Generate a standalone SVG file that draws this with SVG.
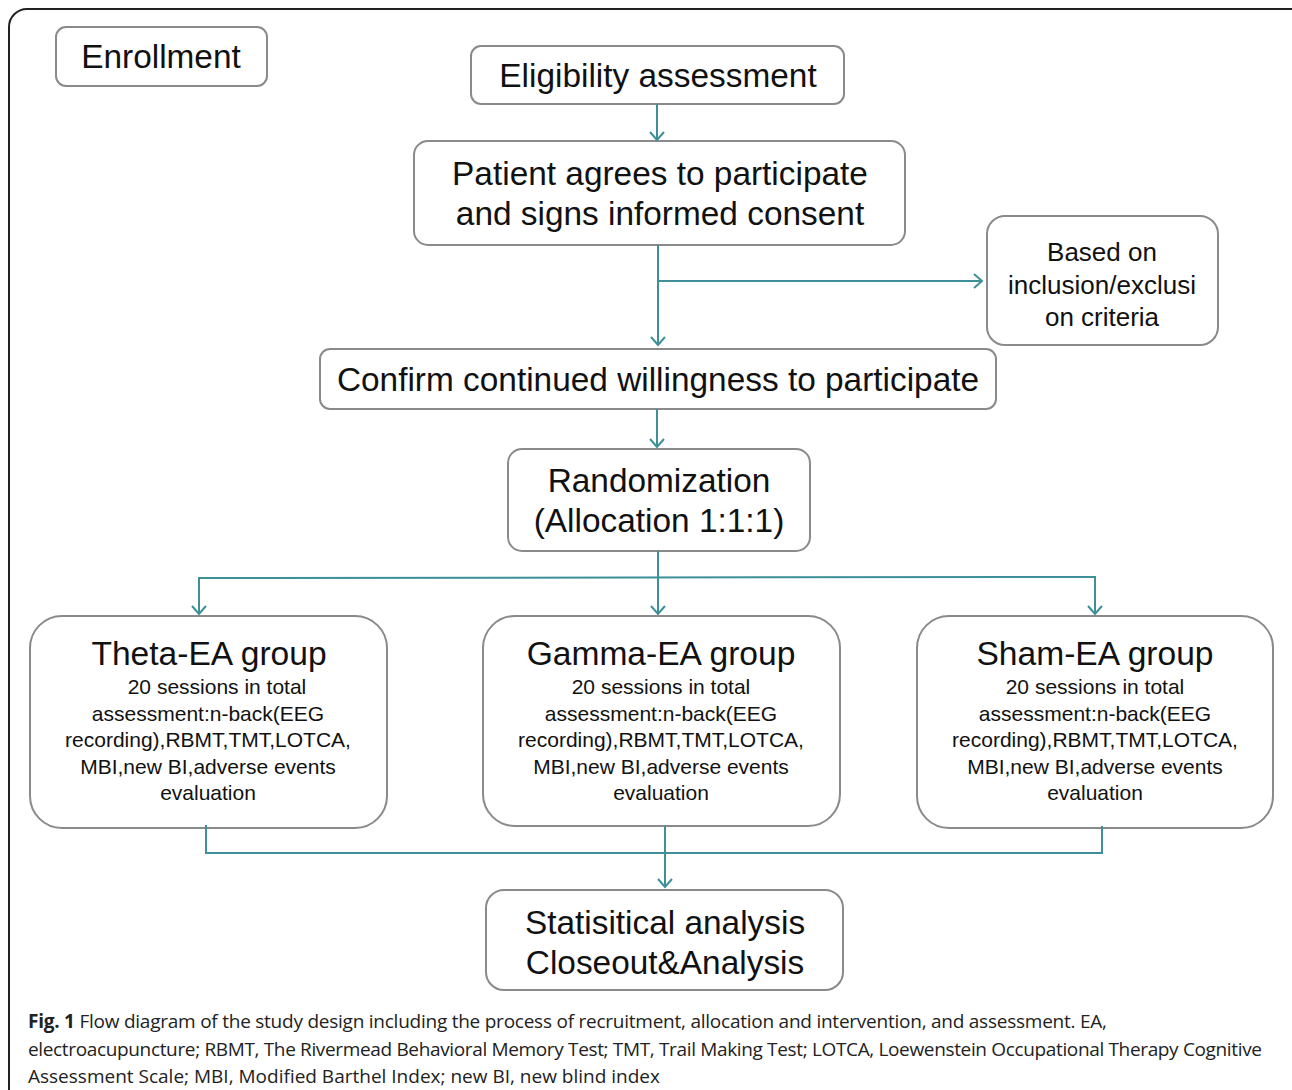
<svg xmlns="http://www.w3.org/2000/svg" width="1292" height="1090" viewBox="0 0 1292 1090">
<defs>
<marker id="arr" viewBox="0 0 20 20" refX="18" refY="10" markerWidth="20" markerHeight="20" markerUnits="userSpaceOnUse" orient="auto-start-reverse">
<path d="M10 3 L18 10 L10 17" fill="none" stroke="#3d9098" stroke-width="2"/>
</marker>
</defs>
<style>
.box{fill:#fff;stroke:#8a8a8a;stroke-width:2}
.t{font-family:"Liberation Sans",Arial,sans-serif;fill:#111;text-anchor:middle}
.big{font-size:33.4px}
.ttl{font-size:33.6px}
.mid{font-size:26px}
.sm{font-size:21px}
.con{fill:none;stroke:#3d9098;stroke-width:2}
.cap{font-family:"Open Sans","Noto Sans",sans-serif;font-size:19px;fill:#222}
</style>
<rect width="1292" height="1090" fill="#fff"/>
<rect x="9" y="9" width="1300" height="1120" rx="18" fill="none" stroke="#222" stroke-width="2"/>

<g id="enrollment"><rect class="box" x="56" y="27" width="211" height="59" rx="10"/><text class="t big" x="161" y="68">Enrollment</text></g>
<g id="eligibility"><rect class="box" x="471" y="46" width="373" height="58" rx="10"/><text class="t big" x="658" y="87">Eligibility assessment</text></g>
<g id="consent"><rect class="box" x="414" y="141" width="491" height="104" rx="14"/><text class="t big" x="660" y="185">Patient agrees to participate</text><text class="t big" x="660" y="225">and signs informed consent</text></g>
<g id="criteria"><rect class="box" x="987" y="216" width="231" height="129" rx="18"/><text class="t mid" x="1102" y="261">Based on</text><text class="t mid" x="1102" y="294">inclusion/exclusi</text><text class="t mid" x="1102" y="326">on criteria</text></g>
<g id="confirm"><rect class="box" x="320" y="349" width="676" height="60" rx="10"/><text class="t big" x="658" y="391">Confirm continued willingness to participate</text></g>
<g id="randomization"><rect class="box" x="508" y="449" width="302" height="102" rx="14"/><text class="t big" x="659" y="492">Randomization</text><text class="t big" x="659" y="532">(Allocation 1:1:1)</text></g>

<g id="theta"><rect class="box" x="30" y="616" width="357" height="212" rx="32"/>
<text class="t ttl" x="209" y="665">Theta-EA group</text>
<text class="t sm" x="217" y="694">20 sessions in total</text>
<text class="t sm" x="208" y="721">assessment:n-back(EEG</text>
<text class="t sm" x="208" y="747">recording),RBMT,TMT,LOTCA,</text>
<text class="t sm" x="208" y="774">MBI,new BI,adverse events</text>
<text class="t sm" x="208" y="800">evaluation</text></g>
<g id="gamma"><rect class="box" x="483" y="616" width="357" height="210" rx="32"/>
<text class="t ttl" x="661" y="665">Gamma-EA group</text>
<text class="t sm" x="661" y="694">20 sessions in total</text>
<text class="t sm" x="661" y="721">assessment:n-back(EEG</text>
<text class="t sm" x="661" y="747">recording),RBMT,TMT,LOTCA,</text>
<text class="t sm" x="661" y="774">MBI,new BI,adverse events</text>
<text class="t sm" x="661" y="800">evaluation</text></g>
<g id="sham"><rect class="box" x="917" y="616" width="356" height="212" rx="32"/>
<text class="t ttl" x="1095" y="665">Sham-EA group</text>
<text class="t sm" x="1095" y="694">20 sessions in total</text>
<text class="t sm" x="1095" y="721">assessment:n-back(EEG</text>
<text class="t sm" x="1095" y="747">recording),RBMT,TMT,LOTCA,</text>
<text class="t sm" x="1095" y="774">MBI,new BI,adverse events</text>
<text class="t sm" x="1095" y="800">evaluation</text></g>
<g id="analysis"><rect class="box" x="486" y="890" width="357" height="100" rx="18"/><text class="t big" x="665" y="934">Statisitical analysis</text><text class="t big" x="665" y="974">Closeout&amp;Analysis</text></g>

<g id="connectors">
<line class="con" x1="657" y1="104" x2="657" y2="140" marker-end="url(#arr)"/>
<line class="con" x1="658" y1="245" x2="658" y2="345" marker-end="url(#arr)"/>
<line class="con" x1="658" y1="281" x2="982" y2="281" marker-end="url(#arr)"/>
<line class="con" x1="657" y1="409" x2="657" y2="447" marker-end="url(#arr)"/>
<line class="con" x1="658" y1="551" x2="658" y2="614" marker-end="url(#arr)"/>
<polyline class="con" points="199,614 199,578 1095,577 1095,614" marker-start="url(#arr)" marker-end="url(#arr)"/>
<polyline class="con" points="206,825 206,853 1102,853 1102,826"/>
<line class="con" x1="665" y1="826" x2="665" y2="887" marker-end="url(#arr)"/>
</g>

<g id="caption">
<text class="cap" x="28" y="1028" textLength="1079"><tspan font-weight="bold">Fig. 1</tspan> Flow diagram of the study design including the process of recruitment, allocation and intervention, and assessment. EA,</text>
<text class="cap" x="28" y="1056" font-size="17.8" textLength="1234" lengthAdjust="spacing">electroacupuncture; RBMT, The Rivermead Behavioral Memory Test; TMT, Trail Making Test; LOTCA, Loewenstein Occupational Therapy Cognitive</text>
<text class="cap" x="28" y="1083">Assessment Scale; MBI, Modified Barthel Index; new BI, new blind index</text>
</g>
</svg>
